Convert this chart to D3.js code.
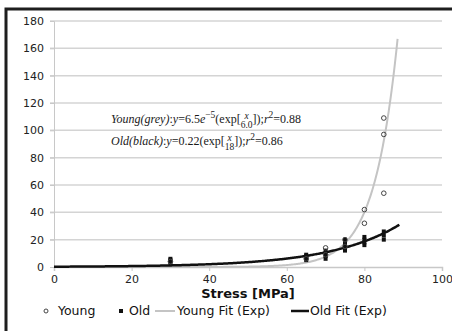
<!DOCTYPE html>
<html><head><meta charset="utf-8">
<script src="https://cdn.jsdelivr.net/npm/d3@7"></script>
<style>body{margin:0;background:#fff}svg{display:block}</style>
</head><body><svg id="c" width="452" height="331"></svg>
<script>
// ---- data ----
const xTicks = [0, 20, 40, 60, 80, 100];
const yTicks = [0, 20, 40, 60, 80, 100, 120, 140, 160, 180];
const youngStress = [30, 65, 70, 70, 75, 75, 80, 80, 85, 85, 85];
const youngValues = [4, 6, 9, 14, 15, 20, 32, 42, 54, 97, 109];
const oldStress = [30, 30, 30, 30, 65, 65, 65, 65, 65, 70, 70, 70, 70, 75, 75, 75, 75, 75, 80, 80, 80, 80, 85, 85, 85];
const oldValues = [3, 4, 5, 6, 5, 6, 7, 8, 9, 6, 8, 10, 12, 12, 14, 16, 18, 20, 16, 18, 20, 22, 20, 23, 26];
const fitNames = ["Young Fit (Exp)", "Old Fit (Exp)"];
const fitA = [6.5e-5, 0.22];      // coefficients from the chart's equations
const fitB = [6.0, 18];
const fitXMax = [88.55, 89];
const legendLabels = ["Young", "Old", "Young Fit (Exp)", "Old Fit (Exp)"];

// ---- drawing ----
const svg = d3.select("#c");
const x = d3.scaleLinear().domain([0, 100]).range([54, 442]);
const y = d3.scaleLinear().domain([0, 180]).range([267, 21]);
const sans = "'DejaVu Sans', Verdana, sans-serif";

// frame (cropped at right/bottom)
svg.append("rect").attr("x", 6).attr("y", 9).attr("width", 600).attr("height", 600)
  .attr("fill", "#fff").attr("stroke", "#1e1e1e").attr("stroke-width", 3);

// gridlines
svg.append("g").selectAll("line").data(yTicks.filter(d => d > 0)).join("line")
  .attr("x1", 50).attr("x2", 442).attr("y1", d => y(d)).attr("y2", d => y(d))
  .attr("stroke", "#d4d4d4").attr("stroke-width", 1.5);

// y axis
const yAxis = svg.append("g").attr("transform", "translate(54,0)")
  .call(d3.axisLeft(y).tickValues(yTicks).tickSize(4).tickPadding(6));
yAxis.select(".domain").attr("stroke", "#c8c8c8");
yAxis.selectAll(".tick line").attr("stroke", "#c8c8c8");
yAxis.selectAll("text").attr("font-family", sans).attr("font-size", 11).attr("fill", "#222");

// x axis
const xAxis = svg.append("g").attr("transform", "translate(0,267)")
  .call(d3.axisBottom(x).tickValues(xTicks).tickSize(4).tickPadding(4));
xAxis.select(".domain").attr("stroke", "#c8c8c8").attr("stroke-width", 1.5);
xAxis.selectAll(".tick line").attr("stroke", "#c8c8c8");
xAxis.selectAll("text").attr("font-family", sans).attr("font-size", 11).attr("fill", "#222");

svg.append("text").attr("x", 248).attr("y", 298).attr("text-anchor", "middle")
  .attr("font-family", sans).attr("font-size", 13).attr("font-weight", "bold").attr("fill", "#111")
  .text("Stress [MPa]");

// fit lines
const fitColors = ["#c4c4c4", "#111"];
const fitWidths = [2, 2.5];
fitA.forEach((a, i) => {
  const xs = d3.range(0, fitXMax[i], 0.25).concat([fitXMax[i]]);
  const line = d3.line().x(d => x(d)).y(d => y(a * Math.exp(d / fitB[i])));
  svg.append("path").datum(xs)
    .attr("d", line).attr("fill", "none")
    .attr("stroke", fitColors[i]).attr("stroke-width", fitWidths[i]);
});

// old points (squares)
svg.append("g").selectAll("rect").data(oldStress.map((s, i) => [s, oldValues[i]])).join("rect")
  .attr("x", d => x(d[0]) - 2).attr("y", d => y(d[1]) - 2).attr("width", 4).attr("height", 4)
  .attr("fill", "#111");

// young points (circles)
svg.append("g").selectAll("circle").data(youngStress.map((s, i) => [s, youngValues[i]])).join("circle")
  .attr("cx", d => x(d[0])).attr("cy", d => y(d[1])).attr("r", 2.3)
  .attr("fill", "none").attr("stroke", "#444").attr("stroke-width", 1);

// equations
function eqLine(x0, yb, segs) {
  const g = svg.append("g").attr("font-family", "'Liberation Serif', 'Times New Roman', serif").attr("fill", "#1a1a1a");
  let cx = x0;
  segs.forEach(s => {
    if (s.frac) {
      const n = g.append("text").attr("x", cx).attr("y", yb - 4).attr("font-size", 9.5).attr("font-style", "italic").text(s.frac[0]);
      const dd = g.append("text").attr("x", cx).attr("y", yb + 5).attr("font-size", 9.5).text(s.frac[1]);
      const wn = n.node().getComputedTextLength(), wd = dd.node().getComputedTextLength();
      const w = Math.max(wn, wd);
      n.attr("x", cx + (w - wn) / 2); dd.attr("x", cx + (w - wd) / 2);
      cx += w;
    } else {
      const t = g.append("text").attr("x", cx).attr("y", s.sup ? yb - 5 : yb)
        .attr("font-size", s.sup ? 9.5 : 12).attr("font-style", s.i ? "italic" : "normal").text(s.t);
      cx += t.node().getComputedTextLength();
    }
  });
}
eqLine(111, 123, [{t: "Young(grey)", i: true}, {t: ":"}, {t: "y", i: true}, {t: "=" + "6.5"}, {t: "e", i: true}, {t: "−5", sup: true},
  {t: "(exp["}, {frac: ["x", fitB[0].toFixed(1)]}, {t: "]);"}, {t: "r", i: true}, {t: "2", sup: true}, {t: "=0.88"}]);
eqLine(111, 145, [{t: "Old(black)", i: true}, {t: ":"}, {t: "y", i: true}, {t: "=" + fitA[1]}, {t: "(exp["},
  {frac: ["x", String(fitB[1])]}, {t: "]);"}, {t: "r", i: true}, {t: "2", sup: true}, {t: "=0.86"}]);

// legend
const lg = svg.append("g").attr("font-family", sans).attr("font-size", 12.5).attr("fill", "#111");
const ly = 315;
lg.append("circle").attr("cx", 46).attr("cy", ly - 4).attr("r", 2).attr("fill", "none").attr("stroke", "#444");
lg.append("text").attr("x", 58).attr("y", ly).text(legendLabels[0]);
lg.append("rect").attr("x", 119).attr("y", ly - 6).attr("width", 4).attr("height", 4).attr("fill", "#111");
lg.append("text").attr("x", 129).attr("y", ly).text(legendLabels[1]);
lg.append("line").attr("x1", 155).attr("x2", 175).attr("y1", ly - 4).attr("y2", ly - 4).attr("stroke", fitColors[0]).attr("stroke-width", 2);
lg.append("text").attr("x", 177).attr("y", ly).text(legendLabels[2]);
lg.append("line").attr("x1", 291).attr("x2", 309).attr("y1", ly - 4).attr("y2", ly - 4).attr("stroke", fitColors[1]).attr("stroke-width", 2.5);
lg.append("text").attr("x", 310).attr("y", ly).text(legendLabels[3]);
</script></body></html>
